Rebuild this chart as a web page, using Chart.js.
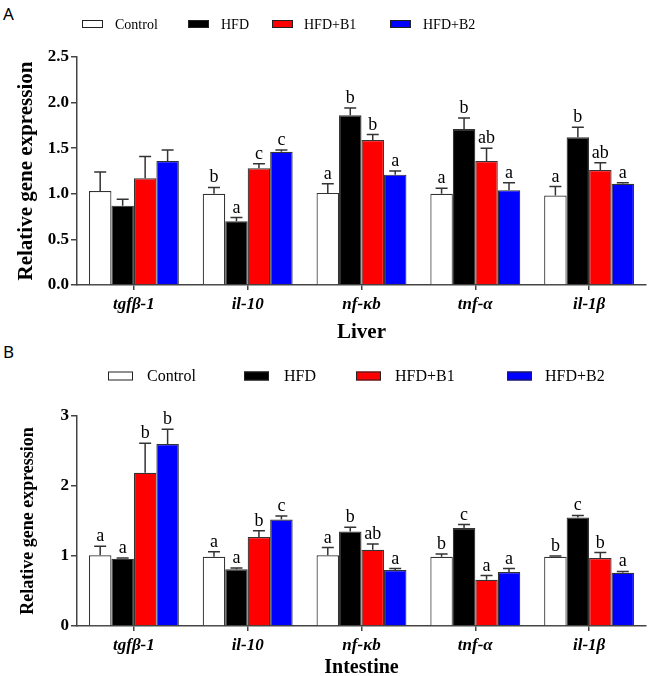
<!DOCTYPE html>
<html>
<head>
<meta charset="utf-8">
<script src="https://cdn.jsdelivr.net/npm/chart.js@4"></script>
<style>
  body { margin: 0; background: #fff; width: 648px; height: 676px; position: relative; overflow: hidden; }
  canvas { position: absolute; left: 0; }
  .tag { position: absolute; left: 3px; font-family: "Noto Sans", sans-serif; font-size: 17px; color: #000; }
</style>
</head>
<body>
<div class="tag" style="top:2px">A</div>
<div class="tag" style="top:340px">B</div>
<canvas id="liverChart" width="648" height="345" style="top:0"></canvas>
<canvas id="gutChart" width="648" height="331" style="top:345px"></canvas>
<script>
// genes and groups
var genes = ["tgfβ-1", "il-10", "nf-κb", "tnf-α", "il-1β"];
var groups = ["Control", "HFD", "HFD+B1", "HFD+B2"];
var colors = ["#ffffff", "#000000", "#ff0000", "#0000ff"];

// liver
var liverControl = [1.03, 1.00, 1.01, 1.00, 0.98];
var liverHFD     = [0.87, 0.70, 1.86, 1.71, 1.62];
var liverB1      = [1.17, 1.28, 1.59, 1.36, 1.26];
var liverB2      = [1.36, 1.46, 1.21, 1.04, 1.11];
var liverErrControl = [0.21, 0.07, 0.10, 0.06, 0.10];
var liverErrHFD     = [0.07, 0.04, 0.08, 0.12, 0.11];
var liverErrB1      = [0.24, 0.05, 0.06, 0.14, 0.08];
var liverErrB2      = [0.12, 0.02, 0.04, 0.08, 0.01];
var liverLetControl = ["", "b", "a", "a", "a"];
var liverLetHFD     = ["", "a", "b", "b", "b"];
var liverLetB1      = ["", "c", "b", "ab", "ab"];
var liverLetB2      = ["", "c", "a", "a", "a"];

// intestine
var gutControl = [1.01, 0.99, 1.01, 0.99, 0.99];
var gutHFD     = [0.96, 0.81, 1.35, 1.40, 1.55];
var gutB1      = [2.19, 1.27, 1.09, 0.66, 0.97];
var gutB2      = [2.60, 1.52, 0.80, 0.77, 0.76];
var gutErrControl = [0.13, 0.07, 0.11, 0.04, 0.01];
var gutErrHFD     = [0.01, 0.02, 0.06, 0.05, 0.03];
var gutErrB1      = [0.42, 0.09, 0.08, 0.06, 0.08];
var gutErrB2      = [0.21, 0.05, 0.02, 0.05, 0.02];
var gutLetControl = ["a", "a", "a", "b", "b"];
var gutLetHFD     = ["a", "a", "b", "c", "c"];
var gutLetB1      = ["b", "b", "ab", "a", "b"];
var gutLetB2      = ["b", "c", "a", "a", "a"];

var liverTicks = [0, 0.5, 1.0, 1.5, 2.0, 2.5];
var gutTicks = [0, 1, 2, 3];

var serif = "'Liberation Serif', 'Times New Roman', serif";
var axisColor = "#444";

// error bars + letters
var errPlugin = {
  id: "errBars",
  afterDatasetsDraw: function(chart) {
    var ctx = chart.ctx, y = chart.scales.y;
    var fs = chart.options.plugins.errBars.fontSize;
    ctx.save();
    chart.data.datasets.forEach(function(ds, i) {
      var meta = chart.getDatasetMeta(i);
      meta.data.forEach(function(bar, j) {
        var top = y.getPixelForValue(ds.data[j] + ds.errors[j]);
        ctx.strokeStyle = "#333";
        ctx.lineWidth = 1.5;
        ctx.beginPath();
        ctx.moveTo(bar.x, bar.y);
        ctx.lineTo(bar.x, top);
        ctx.moveTo(bar.x - 6, top);
        ctx.lineTo(bar.x + 6, top);
        ctx.stroke();
        if (ds.letters[j]) {
          ctx.fillStyle = "#000";
          ctx.font = fs + "px " + serif;
          ctx.textAlign = "center";
          ctx.textBaseline = "alphabetic";
          ctx.fillText(ds.letters[j], bar.x, top - 5);
        }
      });
    });
    ctx.restore();
  }
};

// legend drawn across the top, spaced like the original
var legendPlugin = {
  id: "topLegend",
  afterDraw: function(chart) {
    var o = chart.options.plugins.topLegend;
    var ctx = chart.ctx;
    ctx.save();
    chart.data.datasets.forEach(function(ds, i) {
      var bx = o.boxX[i];
      ctx.fillStyle = ds.backgroundColor;
      ctx.fillRect(bx, o.y - o.boxH / 2, o.boxW, o.boxH);
      ctx.strokeStyle = "#222";
      ctx.lineWidth = 1;
      ctx.strokeRect(bx + 0.5, o.y - o.boxH / 2 + 0.5, o.boxW - 1, o.boxH - 1);
      ctx.fillStyle = "#000";
      ctx.font = o.fontSize + "px " + serif;
      ctx.textAlign = "left";
      ctx.textBaseline = "middle";
      ctx.fillText(ds.label, o.textX[i], o.y + 1);
    });
    ctx.restore();
  }
};

function makeDatasets(vals, errs, lets) {
  return groups.map(function(g, i) {
    return {
      label: g,
      data: vals[i],
      errors: errs[i],
      letters: lets[i],
      backgroundColor: colors[i],
      borderColor: "#333",
      borderWidth: 1.2,
      categoryPercentage: 0.79,
      barPercentage: 1.0
    };
  });
}

function makeChart(id, cfg) {
  var ctx = document.getElementById(id).getContext("2d");
  return new Chart(ctx, {
    type: "bar",
    data: {
      labels: genes,
      datasets: makeDatasets(cfg.vals, cfg.errs, cfg.lets)
    },
    options: {
      responsive: false,
      animation: false,
      layout: { padding: { left: 0, right: 2, top: cfg.padTop, bottom: 0 } },
      plugins: {
        legend: { display: false },
        tooltip: { enabled: false },
        errBars: { fontSize: 18 },
        topLegend: cfg.legend
      },
      scales: {
        x: {
          type: "category",
          offset: true,
          afterFit: function(s) { s.height = cfg.xHeight; },
          grid: { drawOnChartArea: false, offset: false, tickLength: 5, color: axisColor, lineWidth: 1.5 },
          border: { color: axisColor, width: 1.5 },
          ticks: { color: "#000", padding: 4, font: { family: serif, size: 17, weight: "bold", style: "italic" } },
          title: {
            display: true, text: cfg.title, color: "#000",
            font: { family: serif, size: cfg.titleSize, weight: "bold", lineHeight: 1 },
            padding: { top: 0, bottom: cfg.titlePad }
          }
        },
        y: {
          min: 0,
          max: cfg.ticks[cfg.ticks.length - 1],
          afterFit: function(s) { s.width = 77; },
          afterBuildTicks: function(s) { s.ticks = cfg.ticks.map(function(v) { return { value: v }; }); },
          grid: { drawOnChartArea: false, tickLength: 6, color: axisColor, lineWidth: 1.5 },
          border: { color: axisColor, width: 1.5 },
          ticks: {
            color: "#000", padding: 2,
            font: { family: serif, size: 17, weight: "bold" },
            callback: function(v) { return cfg.decimals ? v.toFixed(1) : String(v); }
          },
          title: {
            display: true, text: "Relative gene expression", color: "#000",
            font: { family: serif, size: cfg.yTitleSize, weight: "bold", lineHeight: 1 },
            padding: { top: cfg.yTitlePad, bottom: 0 }
          }
        }
      }
    },
    plugins: [errPlugin, legendPlugin]
  });
}

makeChart("liverChart", {
  vals: [liverControl, liverHFD, liverB1, liverB2],
  errs: [liverErrControl, liverErrHFD, liverErrB1, liverErrB2],
  lets: [liverLetControl, liverLetHFD, liverLetB1, liverLetB2],
  ticks: liverTicks, decimals: true,
  title: "Liver", titleSize: 21, titlePad: 2,
  yTitleSize: 21, yTitlePad: 16,
  padTop: 57, xHeight: 60,
  legend: { y: 24, boxW: 21, boxH: 8, boxX: [82, 188, 272, 390], textX: [115, 221, 304, 423], fontSize: 14 }
});

makeChart("gutChart", {
  vals: [gutControl, gutHFD, gutB1, gutB2],
  errs: [gutErrControl, gutErrHFD, gutErrB1, gutErrB2],
  lets: [gutLetControl, gutLetHFD, gutLetB1, gutLetB2],
  ticks: gutTicks, decimals: false,
  title: "Intestine", titleSize: 20, titlePad: -2,
  yTitleSize: 18, yTitlePad: 19,
  padTop: 71, xHeight: 50,
  legend: { y: 31, boxW: 25, boxH: 9, boxX: [108, 244, 356, 507], textX: [147, 284, 395, 545], fontSize: 16 }
});
</script>
</body>
</html>
